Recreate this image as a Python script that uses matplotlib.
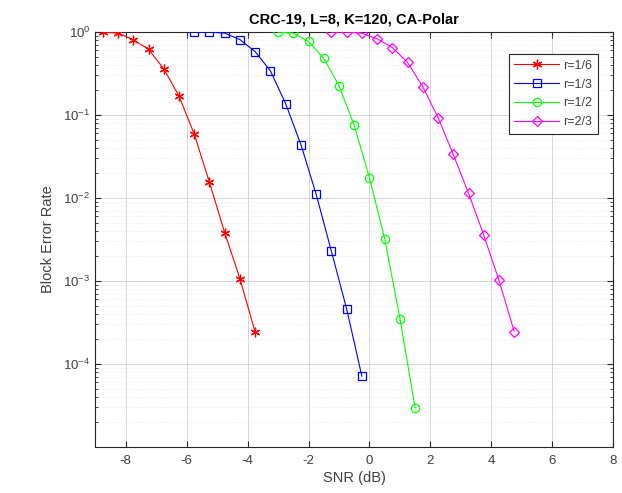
import matplotlib
matplotlib.use("Agg")
import matplotlib.pyplot as plt
import numpy as np

plt.rcParams["font.family"] = ["Liberation Sans", "DejaVu Sans"]
plt.rcParams["mathtext.fontset"] = "custom"
plt.rcParams["mathtext.rm"] = "Liberation Sans"
plt.rcParams["axes.unicode_minus"] = False

# SNR (dB) and BLER per code rate
snr_16 = [-8.75, -8.25, -7.75, -7.25, -6.75, -6.25, -5.75, -5.25, -4.75, -4.25, -3.75]
bler_16 = [1.0, 0.97, 0.81, 0.62, 0.36, 0.169, 0.059, 0.0154, 0.0038, 0.00106, 0.00024]

snr_13 = [-5.75, -5.25, -4.75, -4.25, -3.75, -3.25, -2.75, -2.25, -1.75, -1.25, -0.75, -0.25]
bler_13 = [1.0, 1.0, 0.97, 0.81, 0.58, 0.34, 0.137, 0.044, 0.0111, 0.00228, 0.00046, 7.1e-5]

snr_12 = [-3.0, -2.5, -2.0, -1.5, -1.0, -0.5, 0.0, 0.5, 1.0, 1.5]
bler_12 = [1.0, 0.97, 0.77, 0.48, 0.226, 0.075, 0.0175, 0.0032, 0.00035, 2.9e-5]

snr_23 = [-1.25, -0.75, -0.25, 0.25, 0.75, 1.25, 1.75, 2.25, 2.75, 3.25, 3.75, 4.25, 4.75]
bler_23 = [1.0, 1.0, 0.97, 0.83, 0.65, 0.43, 0.219, 0.093, 0.0334, 0.0114, 0.00356, 0.00101, 0.000244]

labels = ["r=1/6", "r=1/3", "r=1/2", "r=2/3"]
colors = ["#ff0000", "#0000ff", "#00ff00", "#ff00ff"]
markers = [(6, 2, 0), "s", "o", "D"]
msizes = [7, 5.5, 6, 5]

fig = plt.figure(figsize=(6.22, 4.93), dpi=100, facecolor="white")
ax = fig.add_axes([0.153, 0.094, 0.833, 0.841])

series = [(snr_16, bler_16), (snr_13, bler_13), (snr_12, bler_12), (snr_23, bler_23)]
for (x, y), lab, col, mk, ms in zip(series, labels, colors, markers, msizes):
    ax.semilogy(x, y, color=col, marker=mk, markersize=ms,
                markerfacecolor="none", markeredgewidth=0.9,
                linewidth=0.8, label=lab, zorder=3)

ax.set_xlim(-9, 8)
ax.set_ylim(1e-5, 1)
ax.set_xticks(np.arange(-8, 9, 2))
ax.set_yticks([1e-4, 1e-3, 1e-2, 1e-1, 1e0])

ax.grid(True, which="major", axis="both", color="#d0d0d0", linewidth=0.6, zorder=0)
ax.grid(True, which="minor", axis="y", color="#e4e4e4", linewidth=0.5, linestyle=":", zorder=0)
ax.minorticks_on()
ax.xaxis.set_minor_locator(matplotlib.ticker.NullLocator())

ax.tick_params(which="both", direction="in", top=True, right=True, colors="#262626",
               labelsize=9.5, labelcolor="#404040")
ax.tick_params(which="major", length=4)
ax.tick_params(which="minor", length=2)
ax.tick_params(axis="x", pad=6)
for sp in ax.spines.values():
    sp.set_color("#262626")
    sp.set_linewidth(0.8)

ax.set_xlabel("SNR (dB)", fontsize=10.5, color="#404040", labelpad=3)
ax.set_ylabel("Block Error Rate", fontsize=10.5, color="#404040", labelpad=6)
ax.set_title("CRC-19, L=8, K=120, CA-Polar", fontsize=10.5, fontweight="bold", pad=6)

leg = ax.legend(loc="upper right", bbox_to_anchor=(0.982, 0.962), fontsize=9,
                fancybox=False, edgecolor="#262626", framealpha=1,
                handlelength=3.6, borderpad=0.45, labelspacing=0.55, handletextpad=0.3)
leg.get_frame().set_linewidth(0.8)
for t in leg.get_texts():
    t.set_color("#404040")

fig.savefig("out.png", dpi=100, facecolor="white")
